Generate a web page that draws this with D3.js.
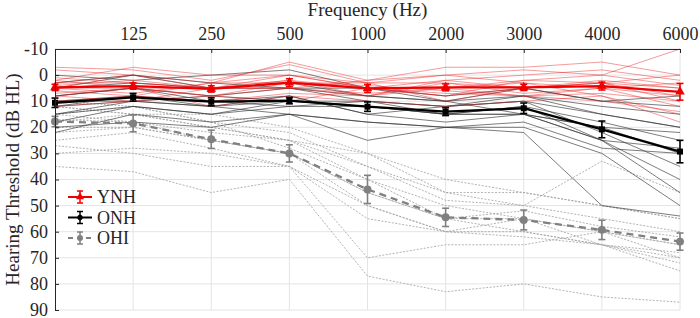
<!DOCTYPE html>
<html>
<head>
<meta charset="utf-8">
<script src="https://cdn.jsdelivr.net/npm/d3@7"></script>
<style>
  body { margin: 0; background: #fff; }
  svg text { font-family: "Liberation Serif", "DejaVu Serif", "Times New Roman", serif !important; fill: #262626; }
</style>
</head>
<body>
<div id="chart"></div>
<script>
// frequency columns (first column has no label)
var freqLabels = ['', '125', '250', '500', '1000', '2000', '3000', '4000', '6000'];
var yTicks = [-10, 0, 10, 20, 30, 40, 50, 60, 70, 80, 90];

// group means and standard errors
var ynhMean = [4.7, 4.2, 5.3, 2.9, 5.1, 4.7, 4.7, 4.2, 6.4];
var ynhErr = [1.2, 1.2, 1.2, 1.5, 1.5, 1.3, 1.2, 1.5, 3.2];
var onhMean = [10.6, 8.5, 10.2, 9.8, 12.1, 14, 12.7, 20.8, 29.3];
var onhErr = [1.8, 1.5, 1.5, 1.2, 1.8, 1.5, 2, 3.2, 4.3];
var ohiMean = [17.8, 18.5, 24.6, 30, 43.8, 54.5, 55.5, 59.3, 63.8];
var ohiErr = [2, 3.2, 3.5, 3.3, 5.4, 3.5, 3.8, 3.7, 3.3];

// individual listeners
var ynhSubjects = [
  [-3, -2, 2, -4, 3, 0, -2, 0, -10],
  [-2, 0, 3, -5, 2, -3, -3, -5, 0],
  [2, -3, 0, 0, 5, 2, 0, -2, 2],
  [3, 3, 5, 2, 5, 5, 2, 0, 4],
  [5, 5, 8, 5, 8, 2, 5, 3, 8],
  [7, 5, 5, 3, 4, 6, 8, 5, 12],
  [4, 2, 5, 0, 3, 3, 5, 2, 5],
  [10, 8, 10, 7, 8, 5, 3, 8, 15],
  [6, 8, 3, 3, 5, 8, 5, 3, 10],
  [1, 3, 5, 5, 2, 0, 3, 5, 3],
  [8, 5, 12, 8, 10, 12, 10, 8, 18],
  [12, 10, 8, 10, 5, 7, 8, 10, 14],
  [5, 7, 3, 0, 5, 8, 2, 3, 0],
  [3, 0, 5, 2, 8, 3, 7, 5, 8],
  [8, 10, 5, 5, 7, 5, 8, 7, 10],
  [2, 5, 8, 3, 3, 10, 5, 3, 5]
];
var onhSubjects = [
  [5, 0, 5, 3, 8, 10, 5, 10, 8],
  [10, 8, 12, 10, 12, 15, 15, 20, 30],
  [20, 18, 20, 15, 25, 20, 22, 50, 54],
  [12, 10, 8, 10, 10, 12, 10, 15, 20],
  [8, 5, 10, 8, 15, 18, 15, 25, 45],
  [15, 12, 15, 12, 12, 15, 12, 18, 25],
  [3, 0, 3, 5, 8, 10, 8, 12, 15],
  [22, 15, 18, 15, 18, 20, 20, 30, 50],
  [10, 10, 12, 8, 15, 12, 10, 22, 35],
  [8, 5, 8, 5, 10, 12, 8, 15, 20],
  [12, 8, 10, 12, 10, 15, 15, 25, 40],
  [15, 10, 12, 15, 18, 20, 18, 28, 30],
  [5, 3, 5, 5, 5, 8, 5, 10, 12],
  [18, 12, 15, 10, 12, 15, 12, 25, 28],
  [0, 2, 0, -2, 5, 10, 15, 20, 22]
];
var ohiSubjects = [
  [12, 15, 20, 25, 35, 45, 50, 55, 60],
  [15, 18, 22, 25, 30, 40, 45, 50, 55],
  [20, 20, 25, 30, 45, 55, 55, 60, 65],
  [27, 30, 35, 35, 70, 65, 65, 60, 70],
  [35, 37, 45, 40, 77, 83, 80, 85, 87],
  [18, 15, 20, 25, 40, 55, 60, 65, 70],
  [22, 20, 25, 30, 50, 60, 55, 60, 65],
  [15, 12, 18, 22, 35, 48, 50, 33, 45],
  [30, 28, 30, 35, 50, 60, 60, 65, 75],
  [12, 15, 15, 20, 30, 45, 45, 50, 55],
  [17, 18, 25, 30, 45, 55, 52, 58, 62],
  [10, 12, 18, 28, 40, 50, 55, 65, 68],
  [25, 22, 28, 35, 55, 60, 62, 65, 72]
];

var width = 700, height = 318;
var margin = { top: 49, right: 20, bottom: 8, left: 55 };
var w = 680 - margin.left, h = 310 - margin.top;
var serif = '"Liberation Serif", "DejaVu Serif", serif';

var svg = d3.select('#chart').append('svg')
  .attr('width', width)
  .attr('height', height)
  .attr('font-family', serif);

var g = svg.append('g')
  .attr('transform', 'translate(' + margin.left + ',' + margin.top + ')');

var x = d3.scaleLinear().domain([0, freqLabels.length - 1]).range([0, w]);
var y = d3.scaleLinear().domain([-10, 90]).range([0, h]);

// grid
g.append('g')
  .selectAll('line')
  .data(yTicks)
  .enter().append('line')
  .attr('x1', 0).attr('x2', w)
  .attr('y1', function(d) { return y(d); })
  .attr('y2', function(d) { return y(d); })
  .attr('stroke', '#e4e4e4')
  .attr('stroke-width', 1);

g.append('g')
  .selectAll('line')
  .data(d3.range(1, freqLabels.length))
  .enter().append('line')
  .attr('x1', function(d) { return x(d); })
  .attr('x2', function(d) { return x(d); })
  .attr('y1', 0).attr('y2', h)
  .attr('stroke', '#e4e4e4')
  .attr('stroke-width', 1);

var line = d3.line()
  .x(function(d, i) { return x(i); })
  .y(function(d) { return y(d); });

// individual lines
g.append('g').selectAll('path')
  .data(ohiSubjects)
  .enter().append('path')
  .attr('d', line)
  .attr('fill', 'none')
  .attr('stroke', '#a0a0a0')
  .attr('stroke-width', 0.8)
  .attr('stroke-dasharray', '2,1.5');

g.append('g').selectAll('path')
  .data(onhSubjects)
  .enter().append('path')
  .attr('d', line)
  .attr('fill', 'none')
  .attr('stroke', '#333')
  .attr('stroke-opacity', 0.8)
  .attr('stroke-width', 0.8);

g.append('g').selectAll('path')
  .data(ynhSubjects)
  .enter().append('path')
  .attr('d', line)
  .attr('fill', 'none')
  .attr('stroke', '#e8191c')
  .attr('stroke-opacity', 0.55)
  .attr('stroke-width', 0.8);

// mean lines with error bars
function drawMean(mean, err, color, dash, symbol, size) {
  var grp = g.append('g');
  grp.append('path')
    .datum(mean)
    .attr('d', line)
    .attr('fill', 'none')
    .attr('stroke', color)
    .attr('stroke-width', 2.3)
    .attr('stroke-dasharray', dash);

  var bars = grp.selectAll('.eb')
    .data(mean)
    .enter().append('g');
  bars.append('line')
    .attr('x1', function(d, i) { return x(i); })
    .attr('x2', function(d, i) { return x(i); })
    .attr('y1', function(d, i) { return y(d - err[i]); })
    .attr('y2', function(d, i) { return y(d + err[i]); })
    .attr('stroke', color).attr('stroke-width', 1.6);
  [-1, 1].forEach(function(s) {
    bars.append('line')
      .attr('x1', function(d, i) { return x(i) - 3.5; })
      .attr('x2', function(d, i) { return x(i) + 3.5; })
      .attr('y1', function(d, i) { return y(d + s * err[i]); })
      .attr('y2', function(d, i) { return y(d + s * err[i]); })
      .attr('stroke', color).attr('stroke-width', 1.6);
  });
  bars.append('path')
    .attr('d', d3.symbol().type(symbol).size(size))
    .attr('transform', function(d, i) { return 'translate(' + x(i) + ',' + y(d) + ')'; })
    .attr('fill', color);
}

drawMean(ohiMean, ohiErr, '#808080', '7,5', d3.symbolCircle, 50);
drawMean(onhMean, onhErr, '#000', null, d3.symbolSquare, 36);
drawMean(ynhMean, ynhErr, '#ee0000', null, d3.symbolTriangle, 40);

// axes (left and top only)
var xAxis = d3.axisTop(x)
  .tickValues(d3.range(0, freqLabels.length))
  .tickFormat(function(d) { return freqLabels[d]; })
  .tickSizeInner(-4).tickSizeOuter(0).tickPadding(9);
var gx = g.append('g').call(xAxis).attr('font-family', serif).attr('font-size', 18);
gx.select('.domain').attr('stroke', '#262626');
gx.selectAll('.tick line').attr('stroke', '#262626');

var yAxis = d3.axisLeft(y)
  .tickValues(yTicks)
  .tickFormat(function(d) { return String(d); })
  .tickSizeInner(-4).tickSizeOuter(0).tickPadding(7);
var gy = g.append('g').call(yAxis).attr('font-family', serif).attr('font-size', 18);
gy.select('.domain').attr('stroke', '#262626');
gy.selectAll('.tick line').attr('stroke', '#262626');
gy.selectAll('.tick text').attr('dy', '0.3em');

// titles
svg.append('text')
  .attr('x', margin.left + w / 2)
  .attr('y', 16)
  .attr('text-anchor', 'middle')
  .style('font-size', '19px')
  .text('Frequency (Hz)');

svg.append('text')
  .attr('transform', 'translate(19,' + (margin.top + h / 2) + ') rotate(-90)')
  .attr('text-anchor', 'middle')
  .style('font-size', '19px')
  .text('Hearing Threshold (dB HL)');

// legend
var legendItems = [
  { name: 'YNH', color: '#ee0000', dash: null, symbol: d3.symbolTriangle, size: 28 },
  { name: 'ONH', color: '#000', dash: null, symbol: d3.symbolCircle, size: 22 },
  { name: 'OHI', color: '#808080', dash: '5,4', symbol: d3.symbolCircle, size: 28 }
];
var leg = svg.append('g');
var items = leg.selectAll('g')
  .data(legendItems)
  .enter().append('g')
  .attr('transform', function(d, i) { return 'translate(80,' + (197 + i * 20.5) + ')'; });
items.append('line')
  .attr('x1', -12).attr('x2', 12)
  .attr('stroke', function(d) { return d.color; })
  .attr('stroke-width', 2)
  .attr('stroke-dasharray', function(d) { return d.dash; });
items.append('line')
  .attr('y1', -6).attr('y2', 6)
  .attr('stroke', function(d) { return d.color; })
  .attr('stroke-width', 1.5);
[-6, 6].forEach(function(c) {
  items.append('line')
    .attr('x1', -3).attr('x2', 3)
    .attr('y1', c).attr('y2', c)
    .attr('stroke', function(d) { return d.color; })
    .attr('stroke-width', 1.5);
});
items.append('path')
  .attr('d', function(d) { return d3.symbol().type(d.symbol).size(d.size)(); })
  .attr('fill', function(d) { return d.color; });
items.append('text')
  .attr('x', 17)
  .attr('dy', '0.35em')
  .style('font-size', '18px')
  .text(function(d) { return d.name; });
</script>
</body>
</html>
